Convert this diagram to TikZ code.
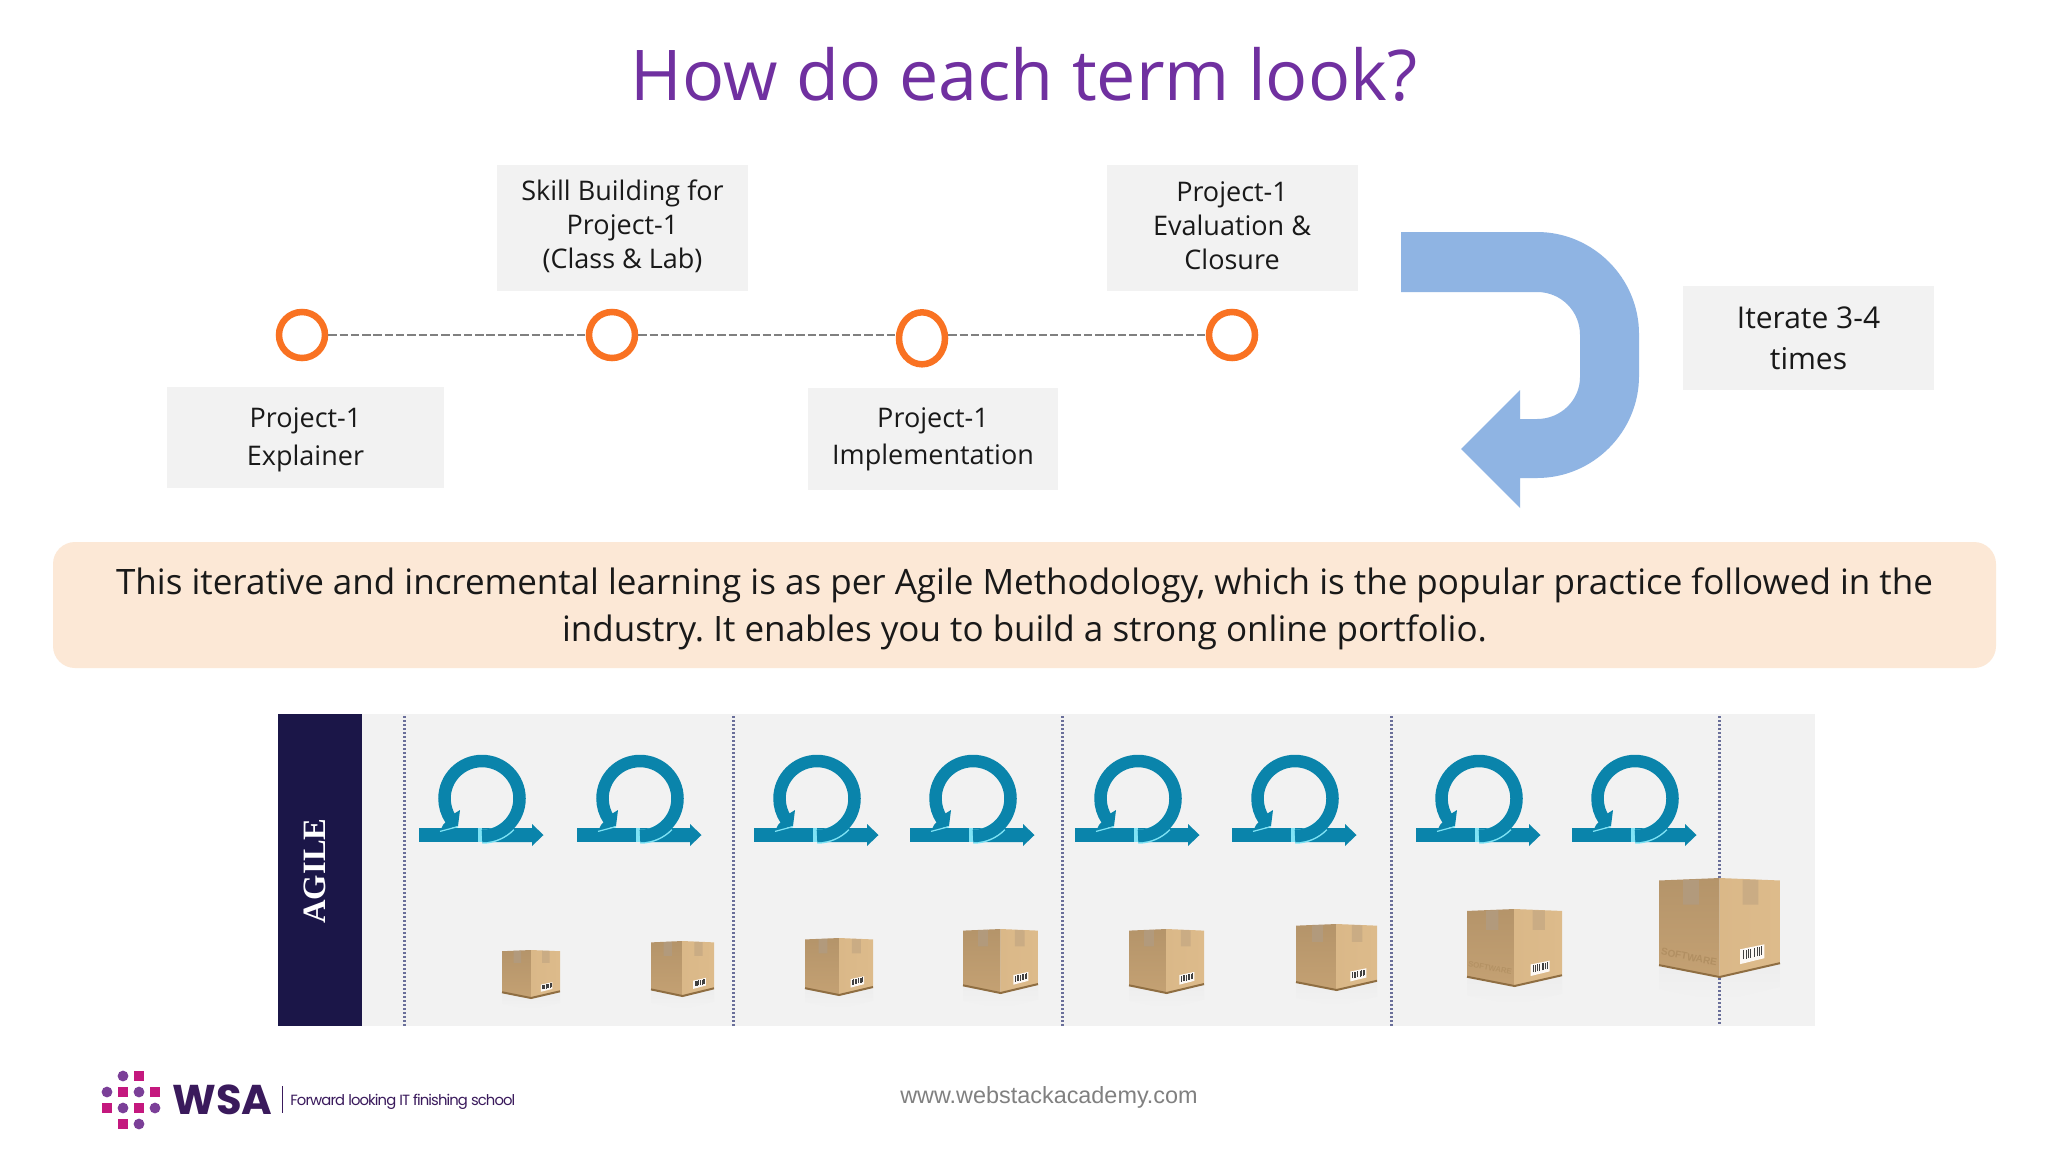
\documentclass[tikz,border=0pt]{standalone}
\usepackage{fontspec}
\setmainfont{Open Sans}
\newfontfamily\urlfont{Liberation Sans}
\newfontfamily\serifb{Liberation Serif}
\newfontfamily\logofont{Poppins}
\newfontfamily\tagfont[LetterSpace=-6]{Poppins}
\usetikzlibrary{shapes.geometric}
\definecolor{titlepurple}{HTML}{7030A0}
\definecolor{boxgray}{HTML}{F2F2F2}
\definecolor{ringorange}{HTML}{F97222}
\definecolor{bannerpeach}{HTML}{FCE8D6}
\definecolor{arrowblue}{HTML}{8FB4E3}
\definecolor{teal1}{HTML}{0A84AB}
\definecolor{cyanedge}{HTML}{7FE3F5}
\definecolor{navy}{HTML}{1B1648}
\definecolor{dotblue}{HTML}{6A6F9A}
\definecolor{wsadark}{HTML}{3A1A5C}
\definecolor{wsapurple}{HTML}{7B3F98}
\definecolor{wsapink}{HTML}{C4187E}
\definecolor{cardleft}{HTML}{C4A173}
\definecolor{cardright}{HTML}{DDBB8B}
\definecolor{cardtape}{HTML}{B29A7C}
\definecolor{cardedge}{HTML}{8F6E42}
\tikzset{
  labeltext/.style={inner sep=0pt,align=center,font=\fontsize{13.5}{17}\selectfont,text=black!90},
  ringnode/.style={circle,draw=ringorange,fill=white,line width=3.25pt,minimum size=23pt,inner sep=0pt},
  conn/.style={draw=gray,line width=1.3pt,dash pattern=on 4.2pt off 1.45pt},
  logodot/.style={circle,fill=wsapurple,minimum size=5.4pt,inner sep=0pt},
  logosq/.style={rectangle,fill=wsapink,minimum size=5.2pt,inner sep=0pt},
  sprint/.style={fill=teal1,draw=none},
  sprintline/.style={dotblue,line width=1.5pt,dash pattern=on 1pt off 1pt},
}
% recurring loop-and-arrow icon
\newcommand{\loopicon}[1]{%
  \begin{scope}[shift={(#1,835)}]
    \fill[sprint] (0,-7) -- (59,-7) -- (59,7) -- (0,7) -- cycle;
    \fill[cyanedge] (59,-7) rectangle (63,7);
    \fill[sprint] (63,-7) -- (113,-7) -- (113,-11) -- (124.5,0) -- (113,11) -- (113,7) -- (63,7) -- cycle;
    \draw[cyanedge,line width=7pt,line cap=butt] (63,1.75) arc[start angle=-90,delta angle=46,x radius=38.25,y radius=-38.25];
    \draw[teal1,line width=6.25pt,line cap=butt] (63,1) arc[start angle=-90,delta angle=304,x radius=37.5,y radius=-37.5];
    \fill[teal1] (24,-10) -- (21,-4) -- (39,-9) -- (41,-25) -- (33,-20) -- cycle;
    \draw[cyanedge,line width=0.6pt] (21,-3.6) -- (39,-8.4);
  \end{scope}}
% cardboard box drawn in a unit square, y upwards: x1 y1 x2 y2 in pixels
\newcommand{\cardbox}[4]{%
  \pgfmathsetmacro{\bw}{(#3-#1)*0.5}\pgfmathsetmacro{\bh}{(#4-#2)*0.5}
  \begin{scope}[shift={(#1,#4)},x=\bw pt,y=\bh pt]
    \shade[top color=black!7,bottom color=boxgray] (0,.12) -- (.5,0) -- (1,.14) -- (1,-.1) -- (.5,-.24) -- (0,-.12) -- cycle;
    \shade[top color=cardleft!92!black,bottom color=cardleft] (0,.12) -- (.5,0) -- (.5,1) -- (0,.975) -- cycle;
    \shade[left color=cardright!88!cardleft,right color=cardright] (.5,0) -- (1,.14) -- (1,.975) -- (.5,1) -- cycle;
    \fill[cardtape] (.2,.98) -- (.33,.985) -- (.33,.73) -- (.2,.73) -- cycle;
    \fill[cardtape!45!cardright] (.69,.985) -- (.82,.98) -- (.82,.73) -- (.69,.73) -- cycle;
    \fill[white!90!cardright] (.67,.13) -- (.87,.19) -- (.87,.33) -- (.67,.28) -- cycle;
    \foreach \k in {.70,.72,.74,.76,.79,.81,.83,.85}
      {\draw[black!75,line width=0.5pt] (\k,{.17+(\k-.67)*.28}) -- (\k,{.26+(\k-.67)*.28});}
    \draw[cardedge,line width=1pt] (0,.12) -- (.5,0) -- (1,.14);
  \end{scope}}
\begin{document}
\begin{tikzpicture}[x=0.5pt,y=-0.5pt]
\frenchspacing
\useasboundingbox (0,0) rectangle (2048,1152);
\fill[white] (0,0) rectangle (2048,1152);

\node[text=titlepurple,font=\fontsize{35}{42}\selectfont,inner sep=0pt] (title) at (1024,74) {How do each term look?};

% timeline labels
\fill[boxgray] (497,165) rectangle (748,291);
\fill[boxgray] (1107,165) rectangle (1358,291);
\fill[boxgray] (167,387) rectangle (444,488);
\fill[boxgray] (808,388) rectangle (1058,490);
\fill[boxgray] (1683,286) rectangle (1934,390);
\node[labeltext] (skill) at (622.5,226.7) {Skill Building for\\Project-1\\(Class \& Lab)};
\node[labeltext] (eval) at (1232,225.4) {Project-1\\Evaluation \&\\Closure};
\node[labeltext,font=\fontsize{13.5}{19}\selectfont] (expl) at (305.5,440) {Project-1\\Explainer};
\node[labeltext,font=\fontsize{13.5}{18.6}\selectfont] (impl) at (933,439.7) {Project-1\\Implementation};
\node[labeltext,font=\fontsize{15}{20.5}\selectfont] (iter) at (1808.5,338) {Iterate 3-4\\times};

% timeline
\node[ringnode] (c1) at (302,335) {};
\node[ringnode] (c2) at (612,335) {};
\node[ringnode,ellipse,minimum width=23pt,minimum height=26pt] (c3) at (922,338.3) {};
\node[ringnode] (c4) at (1232,335) {};
\draw[conn] (c1) -- (c2);
\draw[conn] (c2) -- (c2 -| c3.west);
\draw[conn] (c2 -| c3.east) -- (c4);

% curved arrow
\fill[arrowblue] (1401,232) -- (1537,232)
  .. controls (1593,232) and (1639,278) .. (1639,334) -- (1639,376)
  .. controls (1639,432) and (1593,478) .. (1537,478) -- (1520,478) -- (1520,508)
  -- (1461,449) -- (1520,390) -- (1520,419) -- (1537,419)
  .. controls (1561,419) and (1580,400) .. (1580,377) -- (1580,335)
  .. controls (1580,311) and (1561,292) .. (1537,292) -- (1401,292) -- cycle;

% banner
\fill[bannerpeach,rounded corners=11pt] (53,542) rectangle (1996,668);
\node[inner sep=0pt,align=center,font=\fontsize{17.5}{23.5}\selectfont,text=black!90] (banner) at (1024.5,609)
  {This iterative and incremental learning is as per Agile Methodology, which is the popular practice followed in the\\industry. It enables you to build a strong online portfolio.};

% agile panel
\fill[boxgray] (278,714) rectangle (1815,1026);
\fill[navy] (278,714) rectangle (362,1026);
\node[rotate=90,text=white,font=\serifb\bfseries\fontsize{16.3}{18}\selectfont,inner sep=0pt] (agile) at (315,871) {AGILE};
\foreach \lx in {404,733,1062,1391}
  {\draw[sprintline] (\lx,716) -- (\lx,1026);}
\draw[sprintline] (1719,716) -- (1719,880);
\foreach \ox in {419,577,754,910,1075,1232,1416,1572}
  {\loopicon{\ox}}

\cardbox{502}{950}{560}{998}
\cardbox{651}{941}{714}{996}
\cardbox{805}{938}{873}{995}
\cardbox{963}{929}{1038}{993}
\cardbox{1129}{929}{1204}{993}
\cardbox{1296}{924}{1377}{990}
\cardbox{1467}{909}{1562}{986}
\cardbox{1659}{878}{1780}{977}
\draw[sprintline] (1719,978) -- (1719,1026);
\node[text=cardedge!35!cardleft,font=\urlfont\bfseries\fontsize{5}{6}\selectfont,rotate=-11,inner sep=0pt] (sw8) at (1689,957) {SOFTWARE};
\node[text=cardedge!30!cardleft,font=\urlfont\bfseries\fontsize{3.9}{5}\selectfont,rotate=-11,inner sep=0pt] (sw7) at (1490,968) {SOFTWARE};

% logo
\foreach \lx/\ly in {123/1076,107/1092,139/1092,123/1108,155/1108,139/1124}
  {\node[logodot] at (\lx,\ly) {};}
\foreach \lx/\ly in {139/1076,123/1092,155/1092,107/1108,139/1108,123/1124}
  {\node[logosq] at (\lx,\ly) {};}
\node[text=wsadark,font=\logofont\bfseries\fontsize{20.8}{22}\selectfont,inner sep=0pt,anchor=west] (wsa) at (172,1100) {WSA};
\draw[wsadark,line width=0.5pt] (282,1086) -- (282,1113);
\node[text=wsadark,font=\tagfont\fontsize{7.4}{9}\selectfont,inner sep=0pt,anchor=west] (tag) at (290,1102) {Forward looking IT finishing school};

\node[text=black!50,font=\urlfont\fontsize{11.7}{14}\selectfont,inner sep=0pt] (url) at (1049,1097.5) {www.webstackacademy.com};
\end{tikzpicture}
\end{document}
